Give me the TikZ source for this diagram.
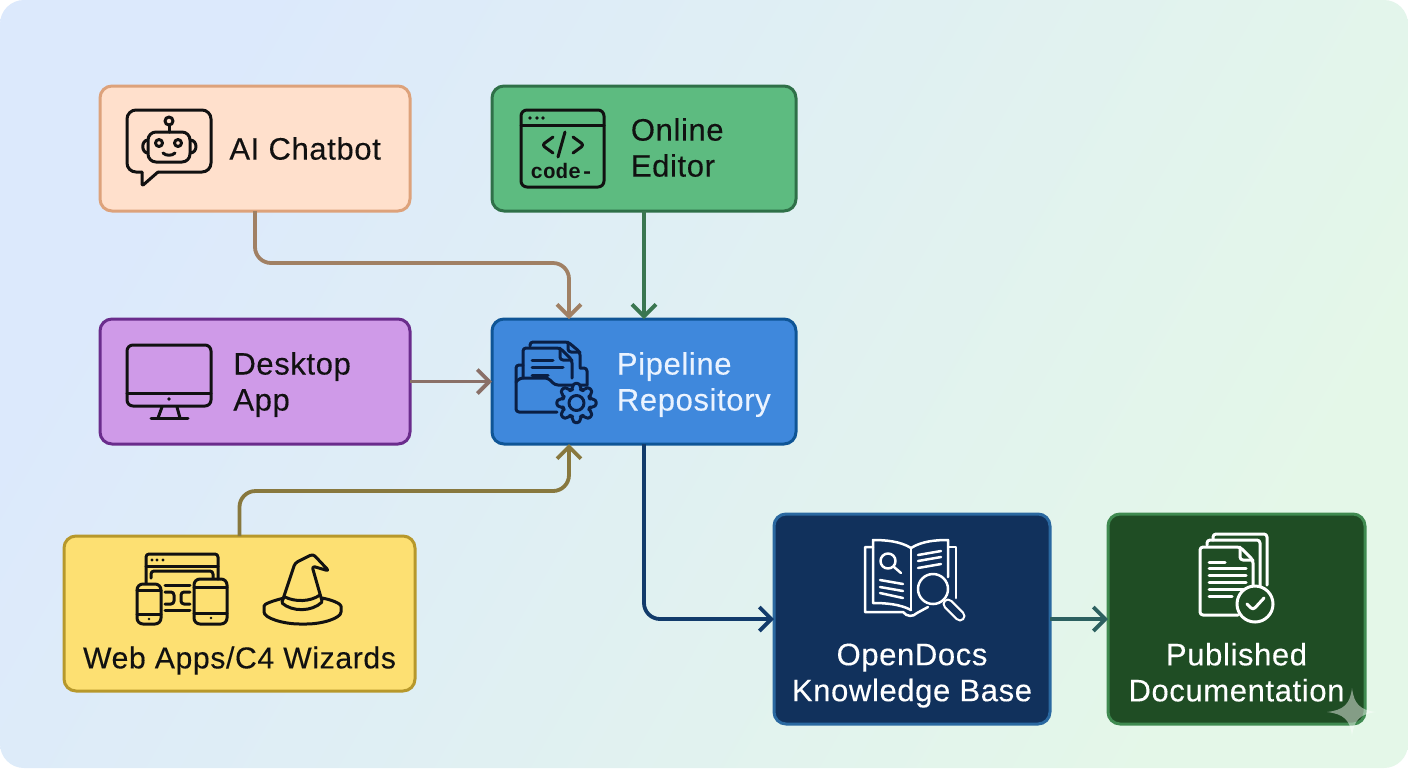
\documentclass[tikz,border=0pt]{standalone}
\usepackage{fontspec}
\setmainfont[LetterSpace=2,FakeBold=0.25]{Liberation Sans}
\newfontfamily\codefont{Liberation Mono}
\usetikzlibrary{arrows.meta,calc,positioning}

\definecolor{chatFill}{HTML}{FFE0CC}
\definecolor{chatLine}{HTML}{DDA27B}
\definecolor{editFill}{HTML}{5DBB80}
\definecolor{editLine}{HTML}{2F7048}
\definecolor{deskFill}{HTML}{CF9AE8}
\definecolor{deskLine}{HTML}{6A2C8C}
\definecolor{pipeFill}{HTML}{3F88DC}
\definecolor{pipeLine}{HTML}{0F5596}
\definecolor{webFill}{HTML}{FDE072}
\definecolor{webLine}{HTML}{B7982B}
\definecolor{docsFill}{HTML}{11315C}
\definecolor{docsLine}{HTML}{2A68A0}
\definecolor{pubFill}{HTML}{1F4D24}
\definecolor{pubLine}{HTML}{3F8A50}
\definecolor{inkDark}{HTML}{111111}
\definecolor{inkNavy}{HTML}{0A1F44}
\definecolor{inkPale}{HTML}{EAF3FF}

\begin{document}
\begin{tikzpicture}[
        x=.5pt, y=-.5pt,
        node distance=54pt and 41pt,
        >={Straight Barb[length=6pt,width=12pt]},
        box/.style={draw, line width=1.5pt, rounded corners=6pt, outer sep=0pt, inner sep=0pt, minimum width=152pt, minimum height=62.5pt},
        boxtext/.style={inner sep=0pt, align=left, text=inkDark, font=\fontsize{15.5}{18}\selectfont},
        link/.style={->, line width=1.9pt, rounded corners=8pt},
        icon/.style={line width=1.5pt, line cap=round, line join=round, rounded corners=1.5pt},
        iconthin/.style={line width=1.25pt, line cap=round, line join=round}
    ]

    % Background
    \fill[white] (0,0) rectangle (1408,768);
    \shade[rounded corners=12pt, top color={rgb,255:red,220;green,233;blue,252}, middle color={rgb,255:red,224;green,240;blue,245}, bottom color={rgb,255:red,228;green,247;blue,232}, shading angle=60] (0,0) rectangle (1408,768);

    % Nodes
    \node (chatbot) [box, fill=chatFill, draw=chatLine, minimum width=155pt] at (255,148.5) {};
    \node (editor) [box, fill=editFill, draw=editLine, right=of chatbot] {};
    \node (desktop) [box, fill=deskFill, draw=deskLine, below=of chatbot, minimum width=155pt] {};
    \node (pipeline) [box, fill=pipeFill, draw=pipeLine, below=of editor] {};
    \node (web) [box, fill=webFill, draw=webLine, below=46pt of desktop, xshift=-7.75pt, minimum width=175.5pt, minimum height=77.5pt] {};
    \node (opendocs) [box, fill=docsFill, draw=docsLine, below right=35pt and -11pt of pipeline, minimum width=138pt, minimum height=105pt] {};
    \node (published) [box, fill=pubFill, draw=pubLine, right=29pt of opendocs, minimum width=128.5pt, minimum height=105pt] {};

    % Labels
    \node (chatbotText) [boxtext, right=64.5pt of chatbot.west] {AI Chatbot};
    \node (editorText) [boxtext, right=69.25pt of editor.west, yshift=.5pt] {Online\\Editor};
    \node (desktopText) [boxtext, right=66.5pt of desktop.west, yshift=-1.5pt] {Desktop\\App};
    \node (pipelineText) [boxtext, text=inkPale, right=62.25pt of pipeline.west, yshift=-1.5pt] {Pipeline\\Repository};
    \node (webText) [boxtext, font=\fontsize{15.1}{18}\selectfont, above=8pt of web.south] {Web Apps/C4 Wizards};
    \node (opendocsText) [boxtext, align=center, text=white, above=8pt of opendocs.south] {OpenDocs\\Knowledge Base};
    \node (publishedText) [boxtext, align=center, text=white, above=11pt of published.south] {Published\\Documentation};

    % Edges
    \coordinate (pipelineTop) at ($(pipeline.north)+(-37.5pt,0)$);
    \coordinate (pipelineBottom) at ($(pipeline.south)+(-37.5pt,0)$);
    \draw[link, color={rgb,255:red,160;green,128;blue,100}] (chatbot.south) -- ++(0,52) -| (pipelineTop);
    \draw[link, color={rgb,255:red,58;green,118;blue,80}] (editor.south) -- (pipeline.north);
    \draw[link, color={rgb,255:red,138;green,112;blue,104}] (desktop.east) -- (pipeline.west);
    \draw[link, color={rgb,255:red,136;green,120;blue,62}] (web.north) -- ++(0,-45) -| (pipelineBottom);
    \draw[link, color={rgb,255:red,18;green,59;blue,107}] (pipeline.south) |- (opendocs.west);
    \draw[link, color={rgb,255:red,44;green,96;blue,96}] (opendocs.east) -- (published.west);

    % Chatbot icon
    \begin{scope}[icon, draw=inkDark]
      \draw[rounded corners=4.5pt] (158,172) -- (211,172) -- (211,110) -- (127,110) -- (127,172) -- (142,172);
      \draw[rounded corners=.8pt] (142,172) -- (142,186) -- (158,172);
      \draw[rounded corners=4pt] (148,132) rectangle (190,162);
      \draw (148,140) .. controls (141,140) and (141,153) .. (148,153);
      \draw (190,140) .. controls (198,140) and (198,153) .. (190,153);
      \draw (169,121) circle (4);
      \draw (169,125) -- (169,132);
      \draw (159,143) circle (3.5);
      \draw (178,143) circle (3.5);
      \draw (163,153) .. controls (166,156) and (172,156) .. (175,153);
    \end{scope}

    % Editor icon
    \begin{scope}[icon, draw=inkDark]
      \draw[rounded corners=3pt] (521,110) rectangle (604,187);
      \draw (521,125) -- (604,125);
      \fill[inkDark] (530,118) circle (1.8) (537,118) circle (1.8) (543,118) circle (1.8);
      \draw (553,137) -- (542,145) -- (553,153);
      \draw (565,132) -- (558,157);
      \draw (573,137) -- (584,145) -- (573,153);
      \node (codeText) [inner sep=0pt, text=inkDark, font=\codefont\bfseries\fontsize{10.5}{12}\selectfont] at (562,171) {code-};
    \end{scope}

    % Desktop icon
    \begin{scope}[icon, draw=inkDark]
      \draw[rounded corners=3pt] (127,345) rectangle (211,406);
      \draw (127,393) -- (211,393);
      \fill[inkDark] (169,399) circle (1.8);
      \draw (162,407) -- (158,418);
      \draw (177,407) -- (180,418);
      \draw (151,418) -- (188,418);
    \end{scope}

    % Pipeline icon
    \begin{scope}[icon, draw=inkNavy]
      \draw (530,346) -- (530,342) -- (568,342) -- (580,352) -- (580,367);
      \draw (568,342) -- (568,352) -- (580,352);
      \draw (523,378) -- (523,348) -- (560,348) -- (572,360) -- (572,378);
      \draw (560,348) -- (560,360) -- (572,360);
      \draw (532,360) -- (553,360);
      \draw (532,367) -- (563,367);
      \draw (532,375) -- (548,375);
      \draw (523,365) -- (516,365) -- (516,412) -- (557,412);
      \draw (516,382) -- (520,378) -- (548,378) -- (555,385) -- (587,385);
      \draw (580,368) -- (587,368) -- (587,385);
      \draw[fill=pipeFill, shift={(576.5,403)}] (-16.5:14) \foreach \a in {0,45,...,315} { -- (\a-16.5:14) -- (\a-10:20) -- (\a+10:20) -- (\a+16.5:14)} -- cycle;
      \draw (576.5,403) circle (7.5);
    \end{scope}

    % Web apps icon
    \begin{scope}[icon, draw=inkDark]
      \draw (146,583) -- (146,554) -- (218,554) -- (218,579);
      \draw (146,566) -- (218,566);
      \fill[inkDark] (152,560) circle (1.6) (157,560) circle (1.6) (163,560) circle (1.6);
      \draw (151,578) -- (151,571) -- (213,571) -- (213,578);
      \draw[rounded corners=3pt] (137,584) rectangle (161,624);
      \draw (137,590) -- (161,590);
      \draw (137,614) -- (161,614);
      \fill[inkDark] (149,619) circle (1.4);
      \draw[rounded corners=3pt] (194,579) rectangle (227,624);
      \draw (194,587) -- (227,587);
      \draw (194,613) -- (227,613);
      \fill[inkDark] (211,618) circle (1.4);
      \draw (165,585) -- (190,585);
      \draw (165,610) -- (190,610);
      \draw (165,592) -- (174,592) -- (174,604) -- (165,604);
      \draw (190,592) -- (181,592) -- (181,604) -- (190,604);
    \end{scope}

    % Wizard hat icon
    \begin{scope}[icon, draw=inkDark]
      \draw (284,598) .. controls (272,601) and (264,604) .. (264,609) .. controls (264,618) and (283,624) .. (303,624) .. controls (323,624) and (341,618) .. (341,609) .. controls (341,604) and (333,600) .. (322,598);
      \draw (282,602) -- (295,563) -- (313,554) -- (329,571) -- (312,566) -- (322,601);
      \draw (285,597) .. controls (295,602) and (310,602) .. (320,595);
      \draw (282,603) .. controls (292,612) and (312,612) .. (322,602);
    \end{scope}

    % OpenDocs icon
    \begin{scope}[iconthin, draw=white]
      \draw (911,548) .. controls (900,541) and (885,540) .. (873,540) -- (873,603) .. controls (885,603) and (900,604) .. (911,610);
      \draw (911,548) -- (911,610);
      \draw (911,548) .. controls (922,541) and (936,540) .. (948,540) -- (948,577);
      \draw (948,547) -- (956,547) -- (956,598);
      \draw (873,547) -- (865,547) -- (865,612) -- (903,612) .. controls (907,617) and (913,617) .. (917,613) -- (928,607);
      \draw (888,561) circle (7.5);
      \draw (894,567) -- (901,573);
      \draw (880,580) -- (903,584);
      \draw (880,587) -- (903,591);
      \draw (880,593) -- (903,598);
      \draw (918,555) -- (941,551);
      \draw (918,561) -- (941,557);
      \draw (918,568) -- (941,564);
      \draw[fill=docsFill] (933,589) circle (15);
      \draw[line width=5.5pt] (948,604) -- (960,616);
      \draw[line width=3.2pt, draw=docsFill] (948,604) -- (960,616);
    \end{scope}

    % Published icon
    \begin{scope}[icon, draw=white]
      \draw (1213,540) -- (1213,534) -- (1267,534) -- (1267,585);
      \draw (1207,545) -- (1207,540) -- (1260,540) -- (1260,587);
      \draw (1253,590) -- (1253,560) -- (1240,547) -- (1200,547) -- (1200,615) -- (1238,615);
      \draw (1240,547) -- (1240,560) -- (1253,560);
      \draw (1209,562) -- (1225,562);
      \foreach \y in {568,575,582,589} \draw (1209,\y) -- (1246,\y);
      \draw (1209,596) -- (1232,596);
      \draw[fill=pubFill] (1255,604) circle (18);
      \draw (1247,604) -- (1253,610) -- (1264,598);
    \end{scope}

    % Sparkle
    \fill[white, opacity=.45] (1352,688) .. controls (1354,704) and (1360,710) .. (1376,712) .. controls (1360,714) and (1354,720) .. (1352,736) .. controls (1350,720) and (1344,714) .. (1327,712) .. controls (1344,710) and (1350,704) .. (1352,688) -- cycle;

\end{tikzpicture}
\end{document}
